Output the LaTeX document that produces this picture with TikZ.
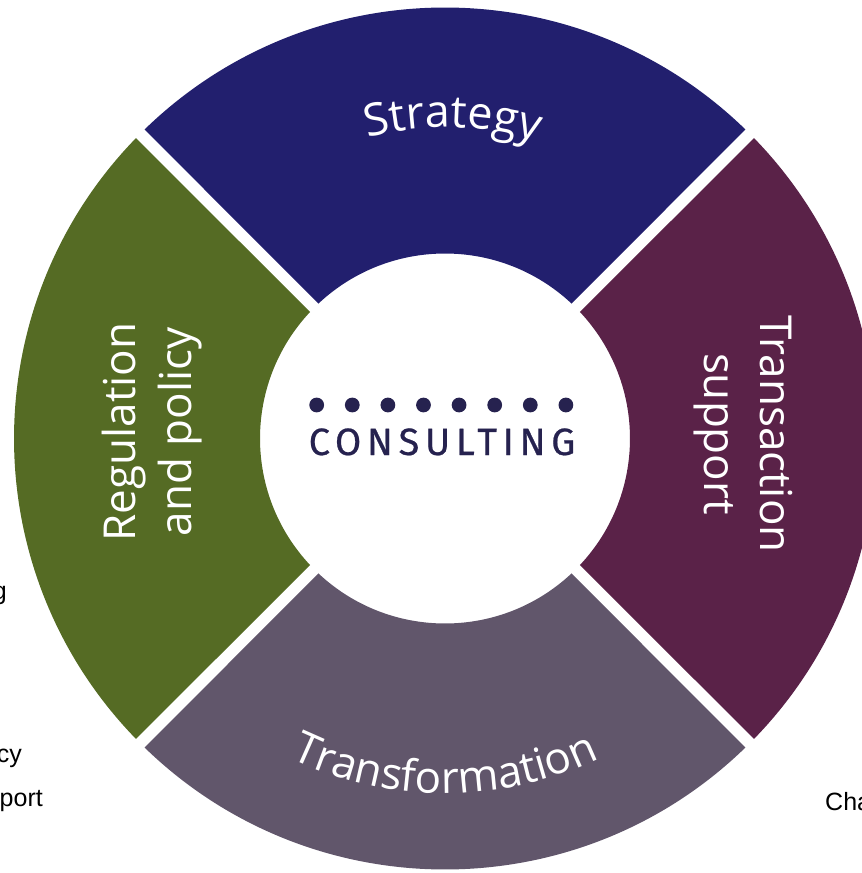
\documentclass[tikz,border=0pt]{standalone}
\usepackage{fontspec}
\usetikzlibrary{decorations.text}
\newfontfamily\lblfont{Open Sans}
\newfontfamily\logofont[LetterSpace=15,FakeBold=0.6]{Fira Sans}
\newfontfamily\fragfont{Liberation Sans}
\definecolor{cStrat}{HTML}{221F6E}
\definecolor{cTrans}{HTML}{5A2248}
\definecolor{cReg}{HTML}{556B24}
\definecolor{cForm}{HTML}{61566B}
\definecolor{cLogo}{HTML}{26224F}
\tikzset{
  x=1pt, y=1pt,
  seglabel/.style={text=white, font=\lblfont\fontsize{44}{56}\selectfont, align=center, inner sep=0pt},
  frag/.style={text=black, font=\fragfont\fontsize{25}{30}\selectfont, inner sep=0pt},
  dotmark/.style={fill=cLogo, draw=none},
}
\def\Ri{185}
\def\Ro{431}
\def\ai{1.86}
\def\ao{0.80}
\newcommand{\ringsector}[2]{%
  (#1+\ai:\Ri) -- (#1+\ao:\Ro) arc[start angle=#1+\ao, end angle=#2-\ao, radius=\Ro]
  -- (#2-\ai:\Ri) arc[start angle=#2-\ai, end angle=#1+\ai, radius=\Ri] -- cycle}
\begin{document}
\begin{tikzpicture}
\useasboundingbox (-445,-434.5) rectangle (417,438.5);
% sectors
\fill[cStrat] \ringsector{45}{135};
\fill[cReg] \ringsector{135}{225};
\fill[cForm] \ringsector{225}{315};
\fill[cTrans] \ringsector{-45}{45};
% curved labels
\path[decorate, decoration={text along path, text align=center,
  text={|\color{white}\lblfont\fontsize{45}{45}\selectfont|Strategy}}]
  (133.6:311) arc[start angle=133.6, end angle=43.6, radius=311];
\path[decorate, decoration={text along path, text align=center,
  text={|\color{white}\lblfont\fontsize{44}{44}\selectfont|Transformation}}]
  (225:355) arc[start angle=225, end angle=315, radius=355];
% side labels
\node[seglabel, rotate=90] (reg) at (-293,6.5) {Regulation\\and policy};
\node[seglabel, rotate=-90] (tra) at (298,4.5) {Transaction\\support};
% logo
\foreach \i in {0,...,7} {
  \fill[dotmark] (-128.3+\i*35.6, 33.5) circle[radius=7.4];
}
\node[anchor=base, text=cLogo, font=\logofont\fontsize{38}{38}\selectfont, inner sep=0pt] (logo) at (-3,-16.5) {CONSULTING};
% clipped fragments
\node[frag, anchor=base east] (f1) at (-438,-160.5) {g};
\node[frag, anchor=base east] (f2) at (-423,-323.5) {cy};
\node[frag, anchor=base east] (f3) at (-402,-367.5) {port};
\node[frag, anchor=base west] (f4) at (380,-371.5) {Cha};
\end{tikzpicture}
\end{document}
